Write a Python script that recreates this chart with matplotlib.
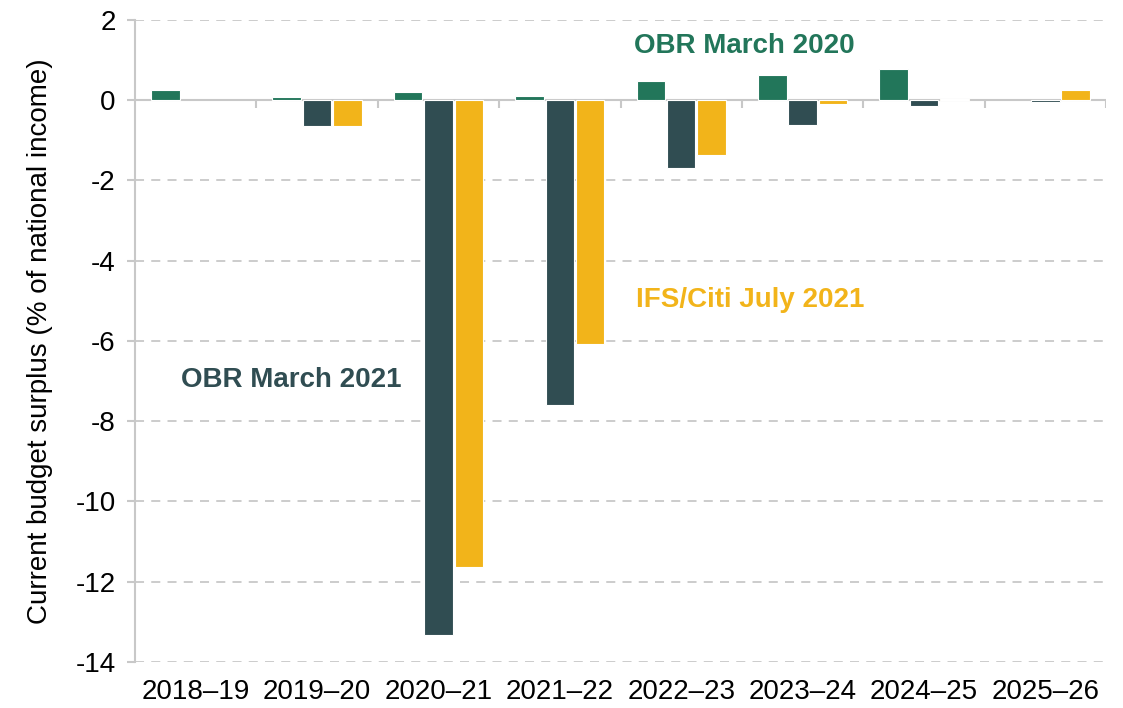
import numpy as np
import matplotlib
matplotlib.use("Agg")
import matplotlib.pyplot as plt

plt.rcParams['font.family'] = ['Liberation Sans', 'DejaVu Sans']
plt.rcParams['axes.unicode_minus'] = False

# Current budget surplus, % of national income
years = ['2018–19', '2019–20', '2020–21', '2021–22', '2022–23', '2023–24', '2024–25', '2025–26']
obr_mar2020 = [0.25, 0.07, 0.20, 0.10, 0.47, 0.64, 0.78, np.nan]
obr_mar2021 = [np.nan, -0.65, -13.32, -7.59, -1.69, -0.62, -0.14, -0.04]
ifs_citi_jul2021 = [np.nan, -0.65, -11.64, -6.08, -1.36, -0.09, 0.04, 0.25]

green = '#22765a'
slate = '#304d52'
gold = '#f2b41a'
grey = '#c8c8c8'

fig = plt.figure(figsize=(11.23, 7.08), dpi=100)
ax = fig.add_axes([0.1202, 0.065, 0.8647, 0.9068])

x = np.arange(len(years))
step = 0.25
w = 0.235
ax.bar(x - step, obr_mar2020, w, color=green, edgecolor='white', linewidth=0.8, zorder=3)
ax.bar(x, obr_mar2021, w, color=slate, edgecolor='white', linewidth=0.8, zorder=3)
ax.bar(x + step, ifs_citi_jul2021, w, color=gold, edgecolor='white', linewidth=0.8, zorder=3)

ax.set_xlim(-0.5, len(years) - 0.5)
ax.set_ylim(-14, 2)
ax.set_yticks(np.arange(-14, 3, 2))
ax.yaxis.grid(True, color=grey, linestyle=(0, (5, 4)), linewidth=1.3, zorder=0)
ax.set_axisbelow(True)

# zero line with category boundary ticks
ax.axhline(0, color=grey, linewidth=1.5, zorder=2)
bounds = np.arange(len(years) + 1) - 0.5
ax.vlines(bounds[1:], -0.2, 0, color=grey, linewidth=1.5, zorder=2)

for s in ['top', 'right', 'bottom']:
    ax.spines[s].set_visible(False)
ax.spines['left'].set_color(grey)
ax.spines['left'].set_linewidth(1.5)

ax.set_xticks(x)
ax.set_xticklabels(years, fontsize=20)
ax.tick_params(axis='x', length=0, pad=12)
ax.tick_params(axis='y', labelsize=20, length=6, color=grey, width=1.5, pad=8)
ax.set_ylabel('Current budget surplus (% of national income)', fontsize=20, labelpad=16)

ax.text(4.52, 1.35, 'OBR March 2020', color=green, fontsize=20, fontweight='bold',
        ha='center', va='center')
ax.text(4.57, -4.98, 'IFS/Citi July 2021', color=gold, fontsize=20, fontweight='bold',
        ha='center', va='center')
ax.text(0.79, -6.97, 'OBR March 2021', color=slate, fontsize=20, fontweight='bold',
        ha='center', va='center')

fig.savefig('out.png', dpi=100)
